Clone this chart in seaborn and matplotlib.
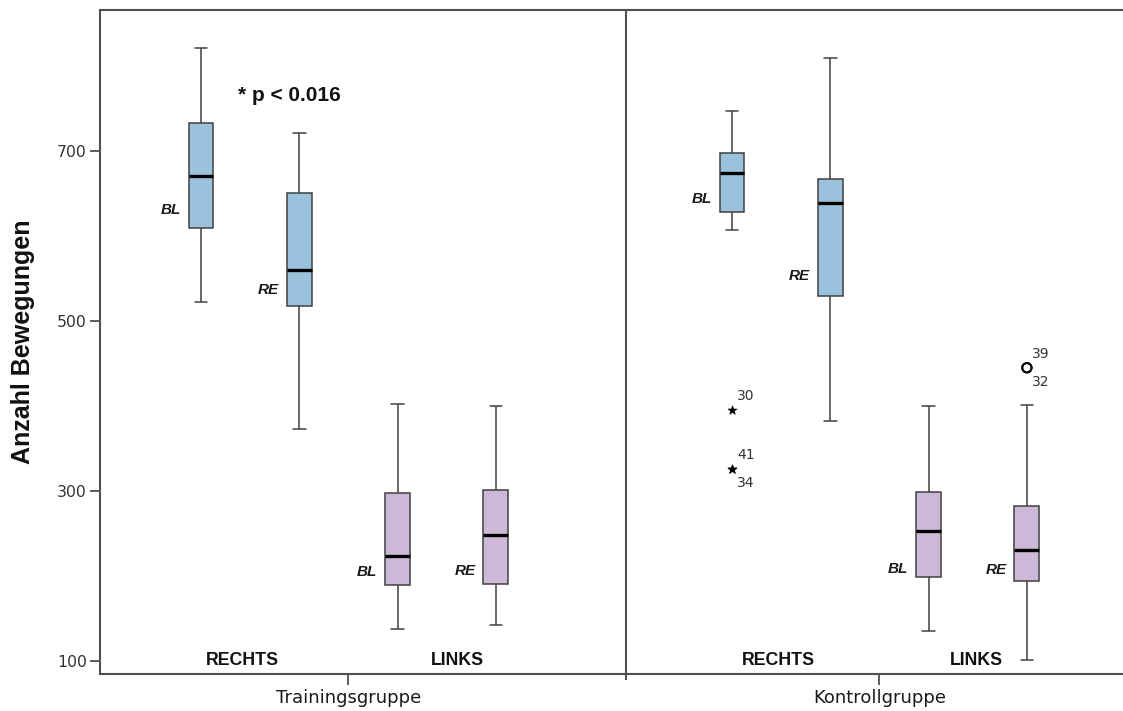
import numpy as np
import pandas as pd
import matplotlib
matplotlib.use("Agg")
import matplotlib.pyplot as plt
import seaborn as sns

# ---- data ---------------------------------------------------------------
groups = ["Trainingsgruppe", "Kontrollgruppe"]
sides = ["RECHTS", "RECHTS", "LINKS", "LINKS"]
phases = ["BL", "RE", "BL", "RE"]

# five-number summaries per box: lower whisker, Q1, median, Q3, upper whisker
training = [
    [522, 609, 671, 733, 821],
    [373, 518, 560, 651, 721],
    [138, 189, 223, 298, 402],
    [142, 191, 248, 301, 400],
]
kontroll = [
    [607, 628, 674, 698, 747],
    [382, 529, 639, 667, 810],
    [135, 199, 253, 299, 400],
    [101, 194, 231, 282, 401],
]

# outliers of the Kontrollgruppe (box index, value, case id, kind)
outlier_box = [0, 0, 0, 3, 3]
outlier_values = [395, 326, 326, 445, 445]
outlier_ids = ["30", "41", "34", "39", "32"]
outlier_kind = ["extreme", "extreme", "extreme", "mild", "mild"]
outlier_label_side = ["above", "above", "below", "above", "below"]

p_note = "* p < 0.016"

# ---- layout -------------------------------------------------------------
group_start = [1.01, 6.32]
box_step = 0.983
divider_x = 5.26
side_label_x = [[1.42, 3.57], [6.78, 8.76]]
phase_label_y = [[631, 536, 205, 206], [644, 553, 208, 207]]
colors = {"RECHTS": "#9bc2dc", "LINKS": "#cdb9d7"}
line_col = "#404040"
spine_col = "#505050"

rows = []
for g, summaries in enumerate([training, kontroll]):
    for i, vals in enumerate(summaries):
        pos = group_start[g] + i * box_step
        for v in vals:
            rows.append({"pos": pos, "value": v, "side": sides[i],
                         "gruppe": groups[g], "phase": phases[i]})
df = pd.DataFrame(rows)

sns.set_theme(style="ticks")
plt.rcParams["font.family"] = ["DejaVu Sans"]

fig = plt.figure(figsize=(11.23, 7.11), dpi=100)
ax = fig.add_axes([100 / 1123, 37 / 711, 1023 / 1123, 664 / 711])

sns.boxplot(
    data=df, x="pos", y="value", hue="side", palette=colors,
    native_scale=True, width=0.254, whis=np.inf, saturation=1,
    linecolor=line_col, linewidth=1.1, legend=False, showfliers=False,
    medianprops=dict(color="black", linewidth=2.4), ax=ax,
)

# outliers
for kind, marker, face in [("extreme", "*", "black"), ("mild", "o", "none")]:
    xs = [group_start[1] + outlier_box[k] * box_step
          for k in range(len(outlier_values)) if outlier_kind[k] == kind]
    ys = [outlier_values[k] for k in range(len(outlier_values))
          if outlier_kind[k] == kind]
    ax.scatter(xs, ys, marker=marker, s=45 if kind == "extreme" else 45,
               facecolors=face, edgecolors="black",
               linewidths=0.5 if kind == "extreme" else 1.4, zorder=5)
for k, cid in enumerate(outlier_ids):
    x = group_start[1] + outlier_box[k] * box_step
    dy = 10 if outlier_label_side[k] == "above" else -10
    ax.annotate(cid, (x, outlier_values[k]), xytext=(10, dy),
                textcoords="offset points", ha="center", va="center",
                fontsize=10, color="#333333", family="DejaVu Sans")

# phase labels next to each box
for g in range(2):
    for i in range(4):
        pos = group_start[g] + i * box_step
        ax.text(pos - 0.2, phase_label_y[g][i], phases[i], ha="right",
                va="center", fontsize=11, fontweight="bold",
                fontstyle="italic", family="Liberation Sans", color="#1a1a1a")
    for j, side in enumerate(["RECHTS", "LINKS"]):
        ax.text(side_label_x[g][j], 100, side, ha="center", va="center",
                fontsize=12.8, fontweight="bold", family="Liberation Sans",
                color="#111111")

ax.text(1.895, 765, p_note, ha="center", va="center", fontsize=15,
        fontweight="bold", family="Liberation Sans", color="#111111")

# axes styling
ax.set_xlim(0, 10.23)
ax.set_ylim(84.7, 865.9)
ax.axvline(divider_x, color=spine_col, linewidth=1.5, zorder=1)

ax.set_yticks([100, 300, 500, 700])
ax.set_xticks([group_start[g] + 1.5 * box_step for g in range(2)])
ax.set_xticklabels(groups)
ax.set_xticks([divider_x], minor=True)
ax.set_xlabel("")
ax.set_ylabel("")

ax.tick_params(axis="y", which="major", left=True, direction="out",
               length=7.5, width=1.3, color=spine_col, labelsize=11.3,
               labelcolor="#333333", pad=2)
ax.tick_params(axis="x", which="major", bottom=True, direction="out",
               length=8, width=1.3, color=spine_col, labelsize=13,
               labelcolor="#1a1a1a", pad=3)
ax.tick_params(axis="x", which="minor", bottom=True, direction="out",
               length=4, width=1.5, color=spine_col)

for name in ["top", "left", "bottom"]:
    ax.spines[name].set_color(spine_col)
    ax.spines[name].set_linewidth(1.5)
ax.spines["right"].set_visible(False)

fig.text(23 / 1123, 1 - 342 / 711, "Anzahl Bewegungen", rotation=90,
         ha="center", va="center", fontsize=18, fontweight="bold",
         family="Liberation Sans", color="#111111")

fig.savefig("out.png", dpi=100, facecolor="white")
